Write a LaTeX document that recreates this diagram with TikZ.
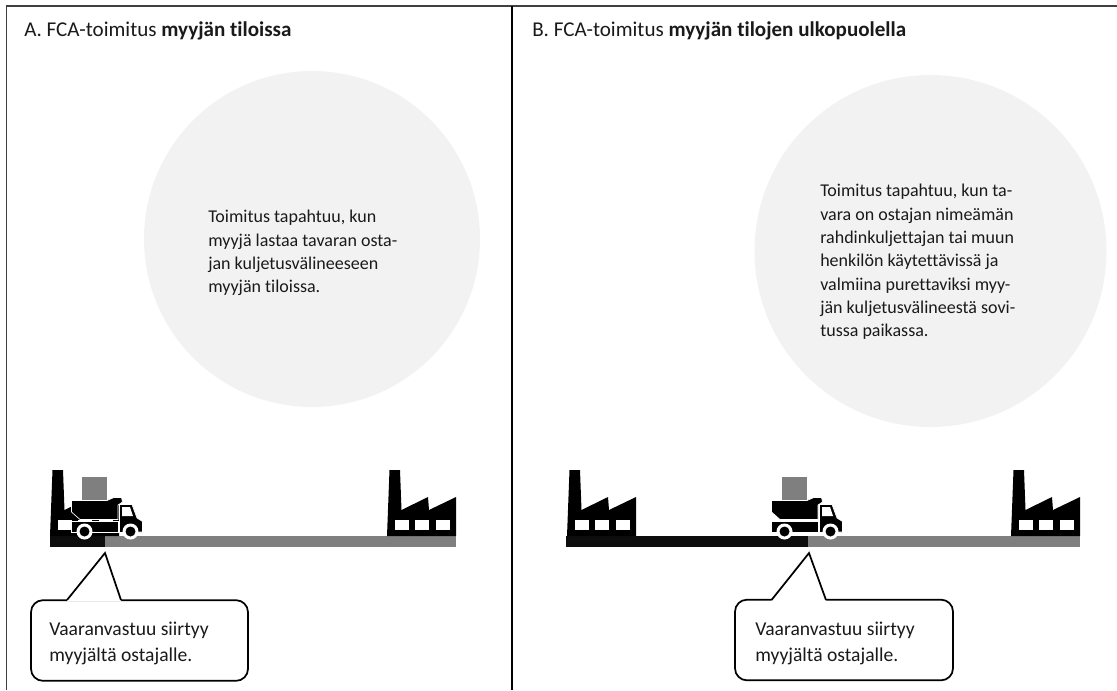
\documentclass[tikz,border=0pt]{standalone}
\usepackage{fontspec}
\setmainfont{Carlito}[Ligatures=NoCommon]
\usepackage{tikz}

\definecolor{barblack}{HTML}{0D0D0D}
\definecolor{bargray}{HTML}{7F7F7F}
\definecolor{circlegray}{HTML}{F2F2F2}
\definecolor{textblack}{HTML}{1A1A1A}

\tikzset{
  titletext/.style={anchor=base west, inner sep=0pt, text=textblack, font=\fontsize{15.8pt}{19pt}\selectfont},
  infotext/.style={anchor=north west, inner sep=0pt, align=left, text=textblack, font=\fontsize{13.5pt}{17.5pt}\selectfont},
  infocircle/.style={circle, fill=circlegray, inner sep=0pt},
  calloutbox/.style={draw=black, line width=1.3pt, fill=white, rounded corners=9pt, minimum height=60.5pt},
  calloutlabel/.style={anchor=north west, inner sep=0pt, align=left, text=textblack, font=\fontsize{14.7pt}{19.3pt}\selectfont},
  pointerline/.style={draw=black, line width=1.3pt},
  factory/.pic={
    \fill[black] (2.5,-66) -- (13,-66) -- (14.5,-26) -- (41,-39) -- (42,-26) -- (69,-39) -- (69,0) -- (0,0) -- cycle;
    \foreach \x in {8,28,49} {
      \fill[white] (\x,-16) rectangle ++(13.5,10);
    }
  },
  truck/.pic={
    % Box on the bed
    \fill[bargray] (10,-59) rectangle (35,-36);
    % Bed, frame and cab
    \filldraw[black, draw=white, line width=0.5pt] (-0.5,-35.5) -- (35,-35.5) -- (42,-38.5) -- (49.5,-38.5) -- (50.5,-34) -- (46,-31) -- (46,-16.5) -- (8,-16.5) -- (-0.5,-24) -- cycle;
    \filldraw[black, draw=white, line width=0.5pt] (-0.5,-14.5) -- (46.5,-14.5) -- (46.5,-3.5) -- (-0.5,-3.5) -- cycle;
    \filldraw[black, draw=white, line width=0.5pt] (47.5,-31.5) -- (60,-31.5) -- (65,-18) -- (70.5,-14.5) -- (70.5,-4) -- (47.5,-3.5) -- cycle;
    \fill[white] (50,-29) -- (58,-29) -- (61,-20) -- (50,-20) -- cycle;
    % Wheels
    \foreach \x in {12.5,58.5} {
      \fill[white] (\x,-4.5) circle (8);
      \fill[black] (\x,-4.5) circle (5);
    }
  }
}

\begin{document}
\begin{tikzpicture}[x=0.75pt, y=-0.75pt]
    \useasboundingbox (0,0) rectangle (1117,690);

    % Frame lines
    \coordinate (frameTL) at (6.5,6);
    \coordinate (frameBL) at (6.5,690);
    \coordinate (frameTR) at (1117,6);
    \coordinate (frameTM) at (512,6);
    \coordinate (frameBM) at (512,690);
    \draw[line width=0.8pt, black!75] (frameBL) -- (frameTL) -- (frameTR);
    \draw[line width=0.9pt, black] (frameTM) -- (frameBM);

    % Circles
    \node[infocircle, minimum size=252pt] (circleA) at (312,239) {};
    \node[infocircle, minimum size=264pt] (circleB) at (930.5,251) {};

    % Titles
    \node[titletext] (titleA) at (24,36.5) {A. FCA-toimitus \textbf{myyjän tiloissa}};
    \node[titletext] (titleB) at (532,36.5) {B. FCA-toimitus \textbf{myyjän tilojen ulkopuolella}};

    % Texts in the circles
    \node[infotext] (infoA) at (208,210) {Toimitus tapahtuu, kun\\myyjä lastaa tavaran osta-\\jan kuljetusvälineeseen\\myyjän tiloissa.};
    \node[infotext] (infoB) at (820,184) {Toimitus tapahtuu, kun ta-\\vara on ostajan nimeämän\\rahdinkuljettajan tai muun\\henkilön käytettävissä ja\\valmiina purettaviksi myy-\\jän kuljetusvälineestä sovi-\\tussa paikassa.};

    % Bars
    \foreach \name/\xa/\xb/\col in {barAblack/50/105/barblack, barAgray/105/456/bargray, barBblack/566/808/barblack, barBgray/808/1080/bargray} {
      \fill[\col] (\xa,536) rectangle (\xb,547);
    }

    % Factories and trucks
    \pic at (50,536) {factory};
    \pic at (387,536) {factory};
    \pic at (567,536) {factory};
    \pic at (1011,536) {factory};
    \pic at (72,536) {truck};
    \pic at (772,536) {truck};

    % Callouts
    \node[calloutbox, minimum width=162.75pt] (calloutA) at (139.5,640.5) {};
    \node[calloutbox, minimum width=163.5pt] (calloutB) at (844,640) {};
    \node[calloutlabel] (labelA) at (49,622) {Vaaranvastuu siirtyy\\myyjältä ostajalle.};
    \node[calloutlabel] (labelB) at (755,622) {Vaaranvastuu siirtyy\\myyjältä ostajalle.};

    \foreach \name/\xtip/\xa/\xb in {A/105/67/121, B/809/771.5/826} {
      \coordinate (tip\name) at (\xtip,553);
      \coordinate (baseL\name) at (\xa,600);
      \coordinate (baseR\name) at (\xb,600);
      \fill[white] (baseL\name) -- (tip\name) -- (baseR\name) -- ([yshift=-1pt]baseR\name) -- ([yshift=-1pt]baseL\name) -- cycle;
      \draw[pointerline] (baseL\name) -- (tip\name) -- (baseR\name);
    }
\end{tikzpicture}
\end{document}
